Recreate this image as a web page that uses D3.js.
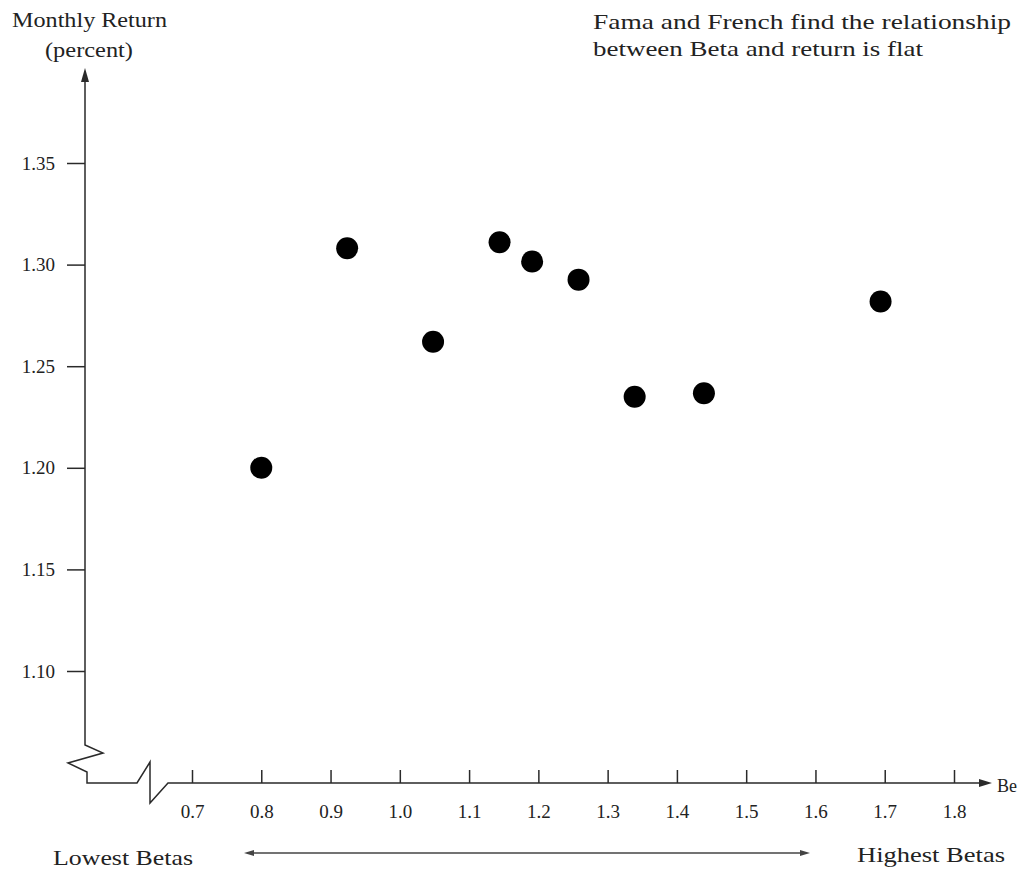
<!DOCTYPE html>
<html><head><meta charset="utf-8">
<script src="https://cdn.jsdelivr.net/npm/d3@7"></script>
<style>body{margin:0;background:#fff}svg{display:block}text{font-family:"Liberation Serif",serif;fill:#222}</style>
</head><body>
<script>
const betas   = [0.80, 0.924, 1.048, 1.144, 1.191, 1.258, 1.339, 1.439, 1.694];
const returns = [1.200, 1.308, 1.262, 1.311, 1.3015, 1.2926, 1.235, 1.2367, 1.2818];
const xTicks = [0.7, 0.8, 0.9, 1.0, 1.1, 1.2, 1.3, 1.4, 1.5, 1.6, 1.7, 1.8];
const yTicks = [1.10, 1.15, 1.20, 1.25, 1.30, 1.35];
const yTitle = ["Monthly Return", "(percent)"];
const note = ["Fama and French find the relationship", "between Beta and return is flat"];

const W = 1025, H = 870;
const svg = d3.select("body").append("svg").attr("width", W).attr("height", H);
const ink = "#2a2a2a";

const x = d3.scaleLinear().domain([0.7, 1.8]).range([192, 954]);
const y = d3.scaleLinear().domain([1.10, 1.35]).range([671, 163]);
const axisX0 = 85, axisY0 = 783;

// Y axis line with break
svg.append("path").attr("fill","none").attr("stroke",ink).attr("stroke-width",1.5)
  .attr("d", `M${axisX0},78 L${axisX0},745 L103,753 L68,763 L87,772 L87,${axisY0} L137,${axisY0} L150,762 L150,803 L168,${axisY0} L984,${axisY0}`);
// arrow heads
svg.append("path").attr("fill",ink).attr("d", `M${axisX0},68 L${axisX0-4},82 L${axisX0+4},82 Z`);
svg.append("path").attr("fill",ink).attr("d", `M992,${axisY0} L979,${axisY0-4} L979,${axisY0+4} Z`);

// Y axis ticks
const gy = svg.append("g").attr("transform", `translate(${axisX0},0)`)
  .call(d3.axisLeft(y).tickValues(yTicks).tickSize(18).tickPadding(12).tickFormat(d3.format(".2f")));
gy.select(".domain").remove();
gy.selectAll("line").attr("stroke", ink).attr("stroke-width",1.5);
gy.selectAll("text").attr("font-family","Liberation Serif").attr("font-size",19).attr("fill","#333");

// X axis ticks
const gx = svg.append("g").attr("transform", `translate(0,${axisY0})`)
  .call(d3.axisBottom(x).tickValues(xTicks).tickSize(-13).tickPadding(22).tickFormat(d3.format(".1f")));
gx.select(".domain").remove();
gx.selectAll("line").attr("stroke", ink).attr("stroke-width",1.5);
gx.selectAll("text").attr("font-family","Liberation Serif").attr("font-size",19).attr("fill","#333");

// Points
svg.selectAll("circle.pt").data(betas).join("circle").attr("class","pt")
  .attr("cx", d => x(d)).attr("cy", (d,i) => y(returns[i])).attr("r", 11).attr("fill", "#000");

// Titles
svg.append("text").attr("x", 12).attr("y", 27).attr("font-size",20).attr("textLength",155).attr("lengthAdjust","spacingAndGlyphs").text(yTitle[0]);
svg.append("text").attr("x", 45).attr("y", 57).attr("font-size",20).attr("textLength",88).attr("lengthAdjust","spacingAndGlyphs").text(yTitle[1]);
svg.append("text").attr("x", 997).attr("y", 792).attr("font-size",18).text("Be");

svg.append("text").attr("x", 593).attr("y", 29).attr("font-size",21).attr("textLength",418).attr("lengthAdjust","spacingAndGlyphs").text(note[0]);
svg.append("text").attr("x", 593).attr("y", 56).attr("font-size",21).attr("textLength",330).attr("lengthAdjust","spacingAndGlyphs").text(note[1]);

svg.append("text").attr("x", 53).attr("y", 865).attr("font-size",21).attr("textLength",140).attr("lengthAdjust","spacingAndGlyphs").text("Lowest Betas");
svg.append("text").attr("x", 857).attr("y", 862).attr("font-size",21).attr("textLength",148).attr("lengthAdjust","spacingAndGlyphs").text("Highest Betas");

// double arrow
svg.append("line").attr("x1",250).attr("x2",803).attr("y1",853).attr("y2",853).attr("stroke","#444").attr("stroke-width",1.3);
svg.append("path").attr("fill","#444").attr("d","M244,853 L254,850 L254,856 Z");
svg.append("path").attr("fill","#444").attr("d","M810,853 L800,850 L800,856 Z");
</script>
</body></html>
